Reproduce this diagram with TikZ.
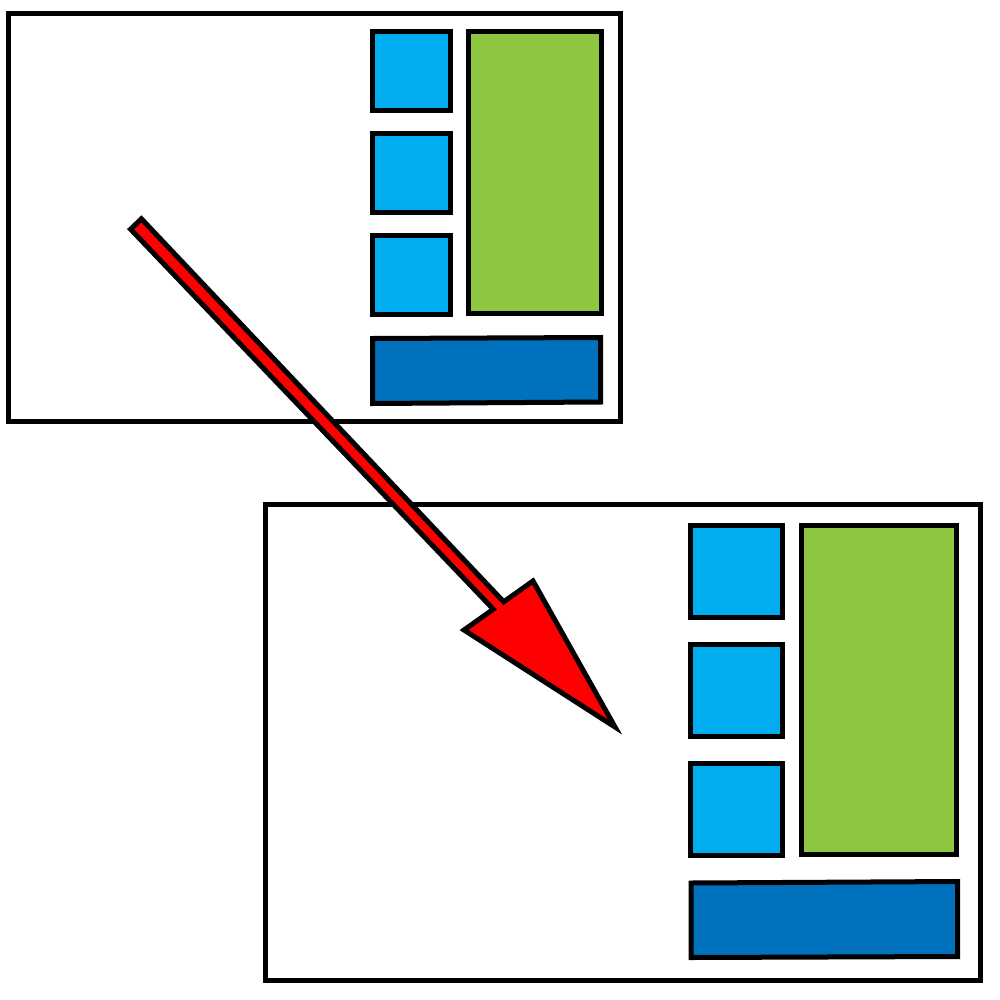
\documentclass[tikz,border=0pt]{standalone}
\usepackage{tikz}
\definecolor{tileblue}{RGB}{0,174,239}
\definecolor{panelgreen}{RGB}{141,198,63}
\definecolor{bardarkblue}{RGB}{0,113,188}
\tikzset{frame/.style={draw=black,line width=0.05cm,fill=white}}
\tikzset{tile/.style={draw=black,line width=0.05cm,fill=tileblue}}
\tikzset{panel/.style={draw=black,line width=0.05cm,fill=panelgreen}}
\tikzset{bar/.style={draw=black,line width=0.05cm,fill=bardarkblue}}
\tikzset{bigarrow/.style={draw=black,line width=0.05cm,fill=red,line join=miter}}

\begin{document}
\begin{tikzpicture}[x=0.01cm,y=-0.01cm]
    \useasboundingbox (0,0) rectangle (1000,1000);
    % small window
    \draw[frame] (8.5,13.5) rectangle (620.8,421.5);
    \draw[tile] (372.5,31.5) rectangle (450.2,110.2);
    \draw[tile] (372.5,133.5) rectangle (450.2,212.5);
    \draw[tile] (372.5,235.8) rectangle (450.2,314.3);
    \draw[panel] (468.5,31.5) rectangle (601.5,313);
    \draw[bar] (372.5,338.5) -- (600.5,337.5) -- (600.5,402) -- (372.5,403.5) -- cycle;
    % large window
    \draw[frame] (265.2,504.5) rectangle (980.2,980.2);
    \draw[tile] (690.5,525) rectangle (782.5,617.5);
    \draw[tile] (690.5,644.5) rectangle (782.5,736.5);
    \draw[tile] (690.5,763.5) rectangle (782.5,855.5);
    \draw[panel] (801.5,525) rectangle (956.5,854.2);
    \draw[bar] (691,883) -- (957.5,881.5) -- (957.5,956.5) -- (691,957.5) -- cycle;
    % arrow
    \coordinate (tailA) at (130.6,229.2);
    \coordinate (tailB) at (141.4,218.8);
    \coordinate (neckA) at (493.3,609.2);
    \coordinate (neckB) at (503.7,601.8);
    \coordinate (barbA) at (464,630);
    \coordinate (barbB) at (533,581);
    \coordinate (tip) at (615,727);
    \draw[bigarrow] (tailA) -- (neckA) -- (barbA) -- (tip) -- (barbB) -- (neckB) -- (tailB) -- cycle;
\end{tikzpicture}
\end{document}
